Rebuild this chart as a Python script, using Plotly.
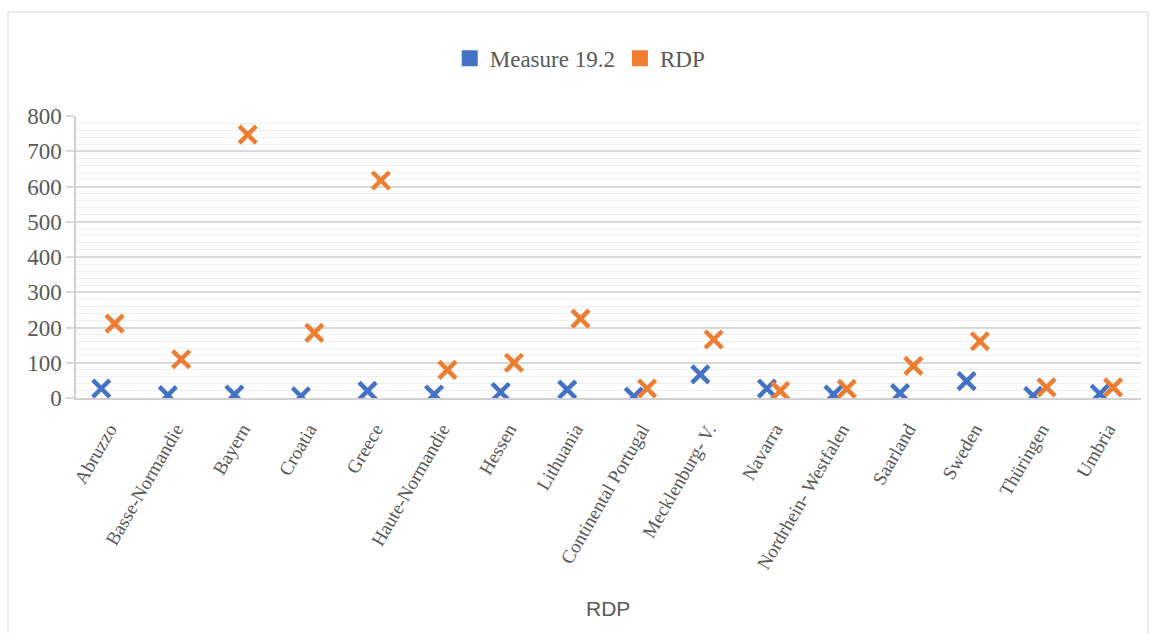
import plotly.graph_objects as go

regions = ["Abruzzo", "Basse-Normandie", "Bayern", "Croatia", "Greece",
           "Haute-Normandie", "Hessen", "Lithuania", "Continental Portugal",
           "Mecklenburg- V.", "Navarra", "Nordrhein- Westfalen", "Saarland",
           "Sweden", "Thüringen", "Umbria"]
measure_19_2 = [27, 8, 10, 5, 20, 10, 17, 24, 4, 67, 27, 10, 14, 48, 6, 12]
rdp = [211, 110, 747, 185, 617, 80, 100, 225, 27, 166, 20, 26, 91, 161, 30, 30]

BLUE = "#4472C4"
ORANGE = "#ED7D31"
GREY_TXT = "#595959"
SERIF = "Liberation Serif, Times New Roman, serif"

W, H = 1150, 633
L, R, T, B = 76, 9, 116, 235

idx = list(range(len(regions)))
fig = go.Figure()

marker_common = dict(symbol="x-thin", size=17)
fig.add_trace(go.Scatter(
    x=[i - 0.12 for i in idx], y=measure_19_2, mode="markers",
    marker=dict(color=BLUE, line=dict(color=BLUE, width=4.5), **marker_common),
    name="Measure 19.2", showlegend=False, cliponaxis=True))
fig.add_trace(go.Scatter(
    x=[i + 0.08 for i in idx], y=rdp, mode="markers",
    marker=dict(color=ORANGE, line=dict(color=ORANGE, width=4.5), **marker_common),
    name="RDP", showlegend=False, cliponaxis=True))

# legend entries shown as squares
for name, col in [("Measure 19.2", BLUE), ("RDP", ORANGE)]:
    fig.add_trace(go.Scatter(
        x=[None], y=[None], mode="markers", name=name,
        marker=dict(symbol="square", size=17, color=col)))

fig.update_layout(
    width=W, height=H,
    margin=dict(l=L, r=R, t=T, b=B),
    paper_bgcolor="white", plot_bgcolor="white",
    font=dict(family=SERIF, color=GREY_TXT),
    legend=dict(orientation="h", x=0.473, xanchor="center", y=1.205, yanchor="middle",
                font=dict(family=SERIF, size=23, color=GREY_TXT),
                itemwidth=30, tracegroupgap=0),
    xaxis=dict(range=[-0.5, len(regions) - 0.5], tickmode="array",
               tickvals=idx, ticktext=regions, tickangle=-60,
               tickfont=dict(family=SERIF, size=19, color=GREY_TXT),
               ticklabelstandoff=11,
               showgrid=False, zeroline=False, showline=True,
               linecolor="#d0d0d0", linewidth=1.5, ticks=""),
    yaxis=dict(range=[0, 800], dtick=100, tick0=0,
               tickfont=dict(family=SERIF, size=23, color=GREY_TXT),
               showgrid=True, gridcolor="#d9d9d9", gridwidth=1.5,
               minor=dict(dtick=20, showgrid=True, gridcolor="#efefef", gridwidth=1),
               zeroline=False, showline=True, linecolor="#d0d0d0", linewidth=1.5,
               ticks="outside", ticklen=8, tickcolor="#d9d9d9", tickwidth=1.5),
)

pw = W - L - R
ph = H - T - B
def px_x(v):
    return (v - L) / pw
def px_y(v):
    return (H - B - v) / ph

fig.add_annotation(text="RDP", x=px_x(608), y=px_y(608), xref="paper", yref="paper",
                   showarrow=False, xanchor="center", yanchor="middle",
                   font=dict(family="Liberation Sans, Arial, sans-serif", size=21,
                             color=GREY_TXT))

fig.add_shape(type="rect", xref="paper", yref="paper",
              x0=px_x(8), x1=px_x(1148), y0=px_y(640), y1=px_y(12),
              line=dict(color="#d9d9d9", width=1), fillcolor="rgba(0,0,0,0)",
              layer="below")

fig.write_html("out.html")
